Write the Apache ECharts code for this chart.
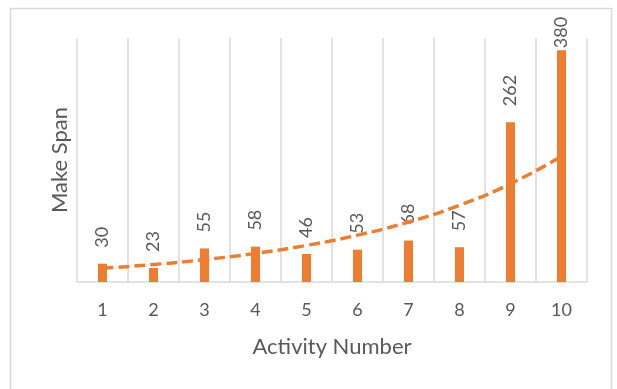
<!DOCTYPE html>
<html>
<head>
<meta charset="utf-8">
<script src="https://cdn.jsdelivr.net/npm/echarts@6/dist/echarts.min.js"></script>
<style>
  html, body { margin: 0; padding: 0; background: #ffffff; }
  #chart { width: 617px; height: 389px; }
</style>
</head>
<body>
<div id="chart"></div>
<script>
// Make span per activity
const activities = ['1', '2', '3', '4', '5', '6', '7', '8', '9', '10'];
const makeSpan = [30, 23, 55, 58, 46, 53, 68, 57, 262, 380];
// Exponential trend line values at each activity
const trendValues = [22.4, 28.6, 36.7, 46.9, 60.0, 76.8, 98.3, 125.8, 161.0, 206.0];

const ORANGE = '#ED7D31';
const TEXT = '#595959';
const GRID = '#d9d9d9';
const FONT = 'Lato, "Liberation Sans", sans-serif';

const chart = echarts.init(document.getElementById('chart'), null, { renderer: 'canvas' });

// The tallest bar keeps its label inside the chart frame
const barData = makeSpan.map((v, i) => {
  if (i === makeSpan.length - 1) {
    return { value: v, label: { distance: 2 } };
  }
  return v;
});

chart.setOption({
  backgroundColor: '#ffffff',
  animation: false,
  graphic: [{
    type: 'rect',
    shape: { x: 10.5, y: 8.5, width: 601, height: 390 },
    style: { fill: 'none', stroke: GRID, lineWidth: 1.5 },
    silent: true
  }],
  grid: { left: 77, right: 30, top: 38, bottom: 107 },
  xAxis: {
    type: 'category',
    data: activities,
    boundaryGap: true,
    name: 'Activity Number',
    nameLocation: 'middle',
    nameGap: 54,
    nameTextStyle: { color: TEXT, fontSize: 22, fontFamily: FONT },
    axisLine: { show: true, lineStyle: { color: GRID, width: 1.5 } },
    axisTick: { show: false },
    axisLabel: { color: TEXT, fontSize: 18, fontFamily: FONT, margin: 19 },
    splitLine: { show: true, lineStyle: { color: GRID, width: 1.5 } }
  },
  yAxis: {
    type: 'value',
    min: 0,
    max: 400,
    name: 'Make Span',
    nameLocation: 'middle',
    nameGap: 6,
    nameRotate: 90,
    nameTextStyle: { color: TEXT, fontSize: 22, fontFamily: FONT },
    axisLine: { show: false },
    axisTick: { show: false },
    axisLabel: { show: false },
    splitLine: { show: false }
  },
  series: [
    {
      type: 'bar',
      data: barData,
      barWidth: 9,
      itemStyle: { color: ORANGE },
      label: {
        show: true,
        position: 'top',
        rotate: 90,
        align: 'left',
        verticalAlign: 'middle',
        distance: 16,
        color: TEXT,
        fontSize: 18,
        fontFamily: FONT
      },
      z: 2
    },
    {
      type: 'line',
      data: trendValues,
      smooth: true,
      symbol: 'none',
      lineStyle: { color: ORANGE, width: 3.5, type: [11, 5] },
      z: 3
    }
  ]
});
</script>
</body>
</html>
